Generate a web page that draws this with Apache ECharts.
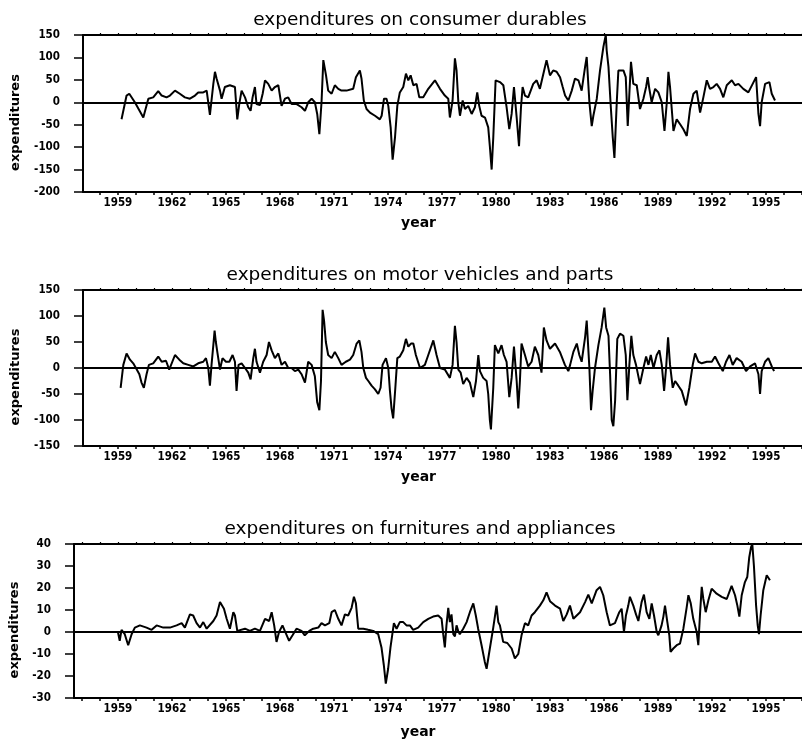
<!DOCTYPE html>
<html>
<head>
<meta charset="utf-8">
<title>expenditures</title>
<script src="https://cdn.jsdelivr.net/npm/echarts@6/dist/echarts.min.js"></script>
<style>
    html, body { margin: 0; padding: 0; background: #fff; }
    #chart { width: 802px; height: 743px; }
</style>
</head>
<body>
<div id="chart"></div>
<script>
    // tick labels on the year axis
    const yearLabels = [1959, 1962, 1965, 1968, 1971, 1974, 1977, 1980, 1983, 1986, 1989, 1992, 1995];

    const titles = [
        'expenditures on consumer durables',
        'expenditures on motor vehicles and parts',
        'expenditures on furnitures and appliances'
    ];

    // [year, expenditures]
    const durables = [
        [1959.20,-38],[1959.48,15],[1959.63,19],[1959.94,0],[1960.41,-34],[1960.50,-35],[1960.69,8],[1960.96,11],
        [1961.24,25],[1961.43,15],[1961.70,11],[1961.89,15],[1962.17,26],[1962.44,19],[1962.72,11],[1963.00,8],
        [1963.28,15],[1963.46,22],[1963.74,22],[1963.93,26],[1964.11,-28],[1964.30,41],[1964.39,68],[1964.48,53],
        [1964.67,26],[1964.76,8],[1964.94,34],[1965.22,38],[1965.50,34],[1965.63,-38],[1965.74,-4],[1965.87,26],
        [1966.06,11],[1966.24,-11],[1966.37,-19],[1966.48,11],[1966.61,34],[1966.70,-4],[1966.89,-6],[1967.04,19],
        [1967.17,49],[1967.35,41],[1967.54,26],[1967.72,34],[1967.91,38],[1968.09,-8],[1968.28,8],[1968.46,11],
        [1968.65,-4],[1968.93,-4],[1969.20,-11],[1969.39,-19],[1969.57,0],[1969.76,8],[1969.94,0],[1970.07,-26],
        [1970.19,-71],[1970.31,0],[1970.41,94],[1970.56,60],[1970.68,26],[1970.87,19],[1971.05,38],[1971.24,30],
        [1971.42,26],[1971.70,26],[1972.07,30],[1972.22,56],[1972.44,71],[1972.53,53],[1972.66,4],[1972.81,-15],
        [1973.00,-23],[1973.28,-30],[1973.55,-38],[1973.65,-30],[1973.78,8],[1973.92,8],[1974.02,-8],[1974.15,-56],
        [1974.26,-128],[1974.39,-79],[1974.52,-8],[1974.66,22],[1974.85,34],[1975.00,64],[1975.13,49],[1975.26,60],
        [1975.41,38],[1975.59,41],[1975.74,11],[1975.96,11],[1976.24,30],[1976.61,49],[1976.89,30],[1977.16,15],
        [1977.35,8],[1977.44,-34],[1977.59,4],[1977.72,98],[1977.81,71],[1977.91,0],[1978.00,-30],[1978.15,4],
        [1978.28,-15],[1978.46,-8],[1978.65,-26],[1978.83,-11],[1978.96,22],[1979.07,-8],[1979.20,-30],[1979.39,-34],
        [1979.57,-56],[1979.66,-98],[1979.76,-150],[1979.85,-79],[1979.98,49],[1980.22,45],[1980.41,38],[1980.59,-11],
        [1980.74,-60],[1980.87,-26],[1981.00,34],[1981.15,-34],[1981.28,-98],[1981.39,-11],[1981.48,34],[1981.61,15],
        [1981.79,11],[1982.07,41],[1982.26,49],[1982.44,30],[1982.66,68],[1982.81,94],[1983.00,60],[1983.18,71],
        [1983.37,68],[1983.56,56],[1983.70,35],[1983.84,15],[1984.02,4],[1984.21,26],[1984.39,53],[1984.58,49],
        [1984.76,26],[1984.95,79],[1985.04,101],[1985.19,0],[1985.32,-53],[1985.41,-30],[1985.60,8],[1985.78,71],
        [1985.97,124],[1986.10,150],[1986.15,116],[1986.25,79],[1986.38,-11],[1986.49,-79],[1986.58,-124],[1986.71,0],
        [1986.80,71],[1987.08,71],[1987.21,56],[1987.32,-53],[1987.41,19],[1987.50,90],[1987.63,41],[1987.82,38],
        [1988.00,-15],[1988.19,8],[1988.34,34],[1988.43,56],[1988.52,30],[1988.65,0],[1988.84,30],[1989.02,22],
        [1989.21,0],[1989.36,-64],[1989.49,0],[1989.58,68],[1989.67,34],[1989.86,-64],[1990.04,-38],[1990.23,-49],
        [1990.41,-60],[1990.60,-75],[1990.78,-15],[1990.97,19],[1991.15,26],[1991.34,-23],[1991.52,11],[1991.71,49],
        [1991.89,30],[1992.08,34],[1992.26,41],[1992.45,30],[1992.63,11],[1992.82,38],[1993.10,49],[1993.28,38],
        [1993.47,41],[1993.74,30],[1994.02,22],[1994.26,41],[1994.45,56],[1994.58,-26],[1994.67,-53],[1994.76,0],
        [1994.95,41],[1995.19,45],[1995.32,19],[1995.50,4]
    ];

    const motorVehicles = [
        [1959.15,-38],[1959.30,6],[1959.48,28],[1959.67,16],[1959.85,9],[1960.00,0],[1960.19,-12],[1960.31,-28],
        [1960.44,-38],[1960.59,-12],[1960.72,6],[1960.96,9],[1961.24,22],[1961.43,12],[1961.67,14],[1961.85,-3],
        [1962.17,25],[1962.41,16],[1962.63,9],[1962.91,6],[1963.19,3],[1963.46,9],[1963.74,12],[1963.89,19],
        [1964.02,0],[1964.11,-34],[1964.20,6],[1964.30,44],[1964.37,72],[1964.44,50],[1964.52,31],[1964.67,-3],
        [1964.81,19],[1965.00,12],[1965.19,12],[1965.37,25],[1965.50,12],[1965.59,-44],[1965.70,6],[1965.87,9],
        [1966.06,0],[1966.24,-9],[1966.37,-22],[1966.52,19],[1966.61,37],[1966.70,12],[1966.89,-9],[1967.07,12],
        [1967.26,25],[1967.39,50],[1967.54,34],[1967.72,19],[1967.91,28],[1968.09,6],[1968.28,12],[1968.46,0],
        [1968.65,0],[1968.83,-6],[1969.02,-3],[1969.20,-12],[1969.39,-28],[1969.57,12],[1969.76,6],[1969.94,-16],
        [1970.07,-66],[1970.19,-81],[1970.28,-25],[1970.37,112],[1970.45,91],[1970.55,50],[1970.68,25],[1970.87,19],
        [1971.05,31],[1971.24,19],[1971.42,6],[1971.66,12],[1971.89,16],[1972.07,25],[1972.26,47],[1972.41,53],
        [1972.53,31],[1972.63,0],[1972.78,-19],[1972.91,-25],[1973.09,-34],[1973.28,-41],[1973.46,-50],[1973.59,-38],
        [1973.70,6],[1973.89,19],[1974.02,0],[1974.11,-44],[1974.20,-78],[1974.29,-97],[1974.41,-38],[1974.52,19],
        [1974.66,22],[1974.85,34],[1975.00,56],[1975.13,41],[1975.28,47],[1975.41,47],[1975.55,25],[1975.78,0],
        [1976.05,6],[1976.24,25],[1976.52,53],[1976.70,25],[1976.89,0],[1977.16,-3],[1977.44,-19],[1977.59,6],
        [1977.72,81],[1977.81,50],[1977.91,-3],[1978.04,-9],[1978.18,-31],[1978.37,-19],[1978.55,-28],[1978.74,-56],
        [1978.89,-25],[1979.02,25],[1979.11,-6],[1979.29,-19],[1979.48,-25],[1979.57,-50],[1979.66,-100],[1979.72,-118],
        [1979.85,-38],[1979.94,44],[1980.13,28],[1980.31,44],[1980.44,25],[1980.59,12],[1980.74,-56],[1980.87,-19],
        [1981.00,41],[1981.15,-25],[1981.24,-78],[1981.33,-25],[1981.42,47],[1981.61,25],[1981.79,3],[1981.98,12],
        [1982.16,41],[1982.35,25],[1982.53,-9],[1982.66,78],[1982.81,53],[1983.00,37],[1983.28,47],[1983.55,31],
        [1983.83,6],[1984.02,-6],[1984.12,6],[1984.30,31],[1984.49,47],[1984.63,25],[1984.76,12],[1984.95,59],
        [1985.04,91],[1985.19,0],[1985.28,-81],[1985.37,-44],[1985.50,0],[1985.69,44],[1985.87,78],[1986.02,116],
        [1986.12,78],[1986.25,62],[1986.34,-12],[1986.43,-100],[1986.52,-112],[1986.62,-62],[1986.74,56],[1986.89,66],
        [1987.08,62],[1987.21,25],[1987.30,-62],[1987.41,6],[1987.52,62],[1987.63,25],[1987.78,6],[1988.00,-31],
        [1988.19,0],[1988.34,22],[1988.47,6],[1988.60,25],[1988.75,0],[1988.93,25],[1989.08,34],[1989.21,6],
        [1989.34,-44],[1989.45,0],[1989.56,59],[1989.67,6],[1989.82,-38],[1989.95,-25],[1990.13,-34],[1990.32,-44],
        [1990.56,-72],[1990.74,-38],[1990.93,6],[1991.06,28],[1991.25,12],[1991.43,9],[1991.71,12],[1991.99,12],
        [1992.17,22],[1992.36,9],[1992.60,-6],[1992.78,12],[1992.97,25],[1993.15,6],[1993.37,19],[1993.65,12],
        [1993.89,-6],[1994.12,3],[1994.39,9],[1994.58,-12],[1994.67,-50],[1994.76,-6],[1994.95,12],[1995.13,19],
        [1995.32,3],[1995.45,-6]
    ];

    const furniture = [
        [1959.00,0],[1959.10,-4],[1959.20,1],[1959.38,-1],[1959.57,-6],[1959.76,-1],[1959.94,2],[1960.22,3],
        [1960.59,2],[1960.87,1],[1961.15,3],[1961.52,2],[1961.89,2],[1962.26,3],[1962.54,4],[1962.72,2],
        [1963.00,8],[1963.18,7.5],[1963.37,4],[1963.56,2],[1963.74,4.5],[1963.93,1.5],[1964.30,5],[1964.48,7.5],
        [1964.67,13.6],[1964.76,14],[1964.89,10.6],[1965.04,6],[1965.22,1.5],[1965.41,9],[1965.50,7.5],[1965.63,0.5],
        [1966.06,1.5],[1966.33,0.5],[1966.61,1.5],[1966.89,0.5],[1967.17,6],[1967.40,5],[1967.54,9],[1967.68,3],
        [1967.81,-4.5],[1967.95,0],[1968.14,3],[1968.27,0.5],[1968.51,-4],[1968.70,-1.5],[1968.92,1.5],[1969.20,0.5],
        [1969.38,-1.5],[1969.63,0.5],[1969.85,1.5],[1970.13,2],[1970.31,4],[1970.50,3],[1970.74,4],[1970.87,9],
        [1971.05,10],[1971.24,6],[1971.42,3],[1971.61,8],[1971.79,7.5],[1971.98,11],[1972.11,16],[1972.22,13],
        [1972.35,1.5],[1972.63,1.5],[1972.90,1],[1973.18,0.5],[1973.46,-1],[1973.64,-7],[1973.77,-15],[1973.88,-23.5],
        [1974.01,-16.7],[1974.14,-7],[1974.33,4],[1974.48,1.5],[1974.66,4.5],[1974.85,4.5],[1975.03,3],[1975.22,3],
        [1975.40,1],[1975.68,2],[1975.96,4.5],[1976.24,6],[1976.51,7],[1976.79,7.5],[1976.98,6],[1977.07,-1],
        [1977.16,-7],[1977.25,3],[1977.35,11],[1977.44,4.5],[1977.53,8],[1977.63,-1],[1977.72,-2],[1977.81,3],
        [1977.90,0.5],[1977.99,-1],[1978.18,1.5],[1978.37,4.5],[1978.55,9],[1978.74,13],[1978.88,7.5],[1979.01,1.5],
        [1979.20,-6],[1979.38,-13.6],[1979.48,-16.7],[1979.66,-7.5],[1979.85,2],[1980.03,12],[1980.13,4.5],[1980.22,3],
        [1980.40,-4.5],[1980.63,-5],[1980.87,-7.5],[1981.05,-12],[1981.24,-10],[1981.42,-1.5],[1981.61,4],[1981.79,3],
        [1981.98,7.5],[1982.16,9],[1982.44,12],[1982.63,14.4],[1982.81,18],[1983.00,14],[1983.28,12],[1983.56,10.6],
        [1983.74,5],[1983.93,8],[1984.11,12],[1984.30,6],[1984.67,9],[1984.95,13.6],[1985.13,17],[1985.32,13],
        [1985.59,19],[1985.78,20.5],[1985.96,16.7],[1986.15,9],[1986.33,3],[1986.61,4],[1986.85,9],[1986.98,10.6],
        [1987.11,0],[1987.22,7.5],[1987.35,12],[1987.44,16],[1987.63,12],[1987.78,8],[1987.91,5],[1988.09,13.6],
        [1988.22,17],[1988.37,9],[1988.52,6],[1988.65,13],[1988.78,7.5],[1988.93,0],[1989.02,-1.5],[1989.20,3],
        [1989.30,7],[1989.39,12],[1989.52,4.5],[1989.63,-1.5],[1989.70,-9],[1989.85,-7.5],[1990.04,-6],[1990.22,-5.3],
        [1990.41,1.5],[1990.59,11],[1990.69,16.7],[1990.82,13],[1990.96,6],[1991.15,0],[1991.24,-6],[1991.33,7.5],
        [1991.43,20.5],[1991.52,15],[1991.65,9],[1991.80,14.4],[1991.98,19.7],[1992.26,17.4],[1992.54,16],[1992.82,15],
        [1993.09,21],[1993.28,16.7],[1993.41,12],[1993.52,7],[1993.65,16.7],[1993.83,22.7],[1993.96,25],[1994.07,34],
        [1994.17,38.6],[1994.24,40],[1994.33,30],[1994.45,12],[1994.54,3],[1994.61,-1],[1994.70,7.5],[1994.85,19],
        [1995.04,25.8],[1995.22,23.5]
    ];

    const seriesData = [durables, motorVehicles, furniture];

    // y axis ranges per panel
    const yMins = [-200, -150, -30];
    const yMaxs = [150, 150, 40];
    const yIntervals = [50, 50, 10];

    // one small tick every year along the frame
    let yearTicks = [];
    for (let y = 1956; y <= 1997; y++) yearTicks.push(y);

    // panel layout: year 1959 sits at x=118, 18px per year, plot runs to the right edge
    const panels = [
        { top: 35, height: 157, left: 83, xMin: 1957.06, yearGap: 24, yearPad: 48, nameGap: 61 },
        { top: 290, height: 156, left: 83, xMin: 1957.06, yearGap: 24, yearPad: 48, nameGap: 61 },
        { top: 544, height: 154, left: 74, xMin: 1956.56, yearGap: 27, yearPad: 40, nameGap: 52 }
    ];
    const xMax = 1997;

    const tickFont = "'DejaVu Sans Condensed', 'DejaVu Sans', sans-serif";
    const plainFont = "'DejaVu Sans', sans-serif";

    let myChart = echarts.init(document.getElementById('chart'), null, { renderer: 'canvas' });

    let grids = [], xAxes = [], yAxes = [], series = [], titleArr = [];

    panels.forEach((p, i) => {
        grids.push({ left: p.left, top: p.top, height: p.height, right: 0 });

        titleArr.push({
            text: titles[i],
            left: 420,
            top: p.top - 24,
            textAlign: 'center',
            padding: 0,
            textStyle: { fontFamily: plainFont, fontSize: 18.5, fontWeight: 'normal', color: '#000' }
        });

        // bottom axis with year labels
        xAxes.push({
            gridIndex: i,
            type: 'value',
            position: 'bottom',
            min: p.xMin,
            max: xMax,
            axisLine: { onZero: false, lineStyle: { color: '#000', width: 2 } },
            axisTick: { show: true, customValues: yearTicks, length: 3, lineStyle: { color: '#000', width: 1.5 } },
            axisLabel: {
                customValues: yearLabels,
                formatter: v => String(Math.round(v)),
                margin: 5,
                color: '#000',
                fontFamily: tickFont,
                fontWeight: 'bold',
                fontSize: 11.5
            },
            splitLine: { show: false },
            name: 'year',
            nameLocation: 'middle',
            nameGap: p.yearGap,
            nameTextStyle: {
                color: '#000', fontFamily: plainFont, fontWeight: 'bold', fontSize: 14,
                padding: [0, p.yearPad, 0, 0]
            }
        });
        // top frame line
        xAxes.push({
            gridIndex: i,
            type: 'value',
            position: 'top',
            min: p.xMin,
            max: xMax,
            axisLine: { onZero: false, lineStyle: { color: '#000', width: 2 } },
            axisTick: { show: true, customValues: yearTicks, length: 2, lineStyle: { color: '#000', width: 1.2 } },
            axisLabel: { show: false },
            splitLine: { show: false }
        });

        yAxes.push({
            gridIndex: i,
            type: 'value',
            min: yMins[i],
            max: yMaxs[i],
            interval: yIntervals[i],
            axisLine: { show: true, onZero: false, lineStyle: { color: '#000', width: 2 } },
            axisTick: { show: true, length: 9, lineStyle: { color: '#000', width: 1.5 } },
            axisLabel: {
                margin: 23,
                color: '#000',
                fontFamily: tickFont,
                fontWeight: 'bold',
                fontSize: 11.5
            },
            splitLine: { show: false },
            name: 'expenditures',
            nameLocation: 'middle',
            nameGap: p.nameGap,
            nameTextStyle: {
                color: '#000', fontFamily: plainFont, fontWeight: 'bold', fontSize: 13,
                padding: [0, 18, 0, 0]
            }
        });

        series.push({
            type: 'line',
            xAxisIndex: i * 2,
            yAxisIndex: i,
            data: seriesData[i],
            showSymbol: false,
            symbol: 'none',
            lineStyle: { color: '#000', width: 2 },
            markLine: {
                silent: true,
                symbol: ['none', 'none'],
                label: { show: false },
                lineStyle: { color: '#000', width: 2, type: 'solid' },
                data: [{ yAxis: 0 }]
            }
        });
    });

    myChart.setOption({
        animation: false,
        backgroundColor: '#fff',
        title: titleArr,
        grid: grids,
        xAxis: xAxes,
        yAxis: yAxes,
        series: series
    });
</script>
</body>
</html>
